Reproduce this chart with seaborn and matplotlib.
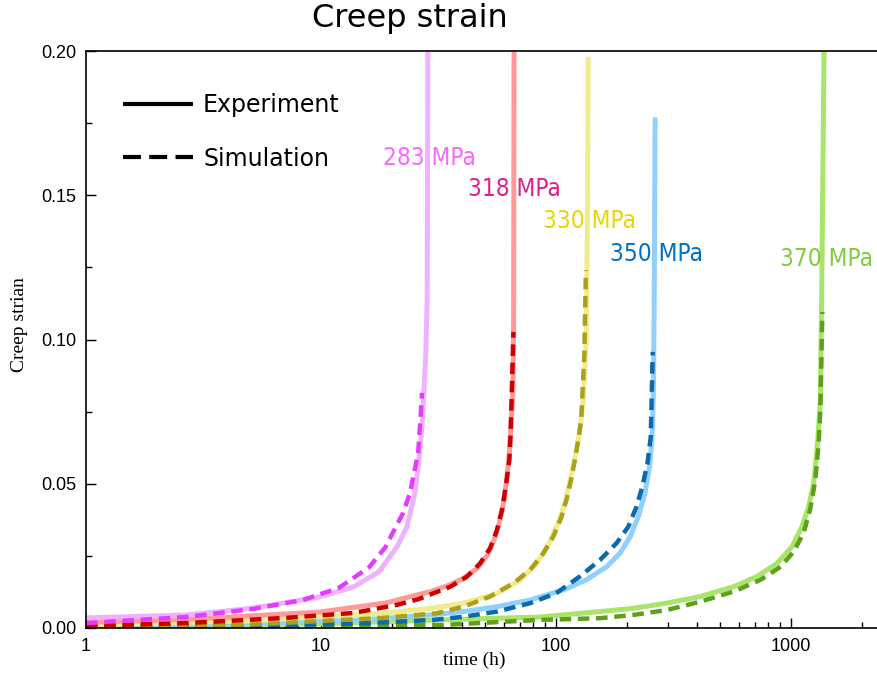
import numpy as np
import pandas as pd
import matplotlib
matplotlib.use("Agg")
import matplotlib.pyplot as plt
import seaborn as sns
from matplotlib.lines import Line2D
from matplotlib.ticker import LogLocator, NullFormatter, FixedLocator

# ---------------- data ----------------
t_283_exp = [1, 2.66, 5.13, 9.8, 13.7, 17.6, 19.2, 21.0, 23.2, 25.1, 26.1, 26.9, 27.4, 27.9, 28.3, 28.5]
e_283_exp = [0.0035, 0.0045, 0.0069, 0.0107, 0.0142, 0.0194, 0.0236, 0.028, 0.035, 0.0468, 0.058, 0.0697, 0.0815, 0.095, 0.114, 0.200]
t_283_sim = [1, 2.66, 5.13, 8.38, 11.9, 16.0, 18.8, 20.2, 22.4, 23.9, 24.9, 25.9, 26.6, 26.9]
e_283_sim = [0.0017, 0.0038, 0.0066, 0.0097, 0.0139, 0.021, 0.028, 0.033, 0.040, 0.0468, 0.0537, 0.0607, 0.0745, 0.0815]

t_318_exp = [1, 2.66, 9.8, 18.9, 29.1, 34.4, 40.4, 46.2, 51.1, 54.5, 57.3, 59.8, 61.7, 63.3, 64.5, 65.6, 66.0, 66.3]
e_318_exp = [0.002, 0.003, 0.0055, 0.0087, 0.0126, 0.0146, 0.0172, 0.0207, 0.0253, 0.0305, 0.0363, 0.0432, 0.0513, 0.0605, 0.0721, 0.082, 0.105, 0.200]
t_318_sim = [1, 2.66, 7.1, 13.7, 21.0, 26.0, 30.0, 35.5, 41.8, 47.5, 52.4, 56.1, 58.9, 61.1, 63.3, 64.1, 65.0, 65.9]
e_318_sim = [0.0007, 0.0017, 0.0035, 0.0052, 0.0080, 0.0100, 0.012, 0.0143, 0.0178, 0.0224, 0.0276, 0.034, 0.0409, 0.049, 0.0582, 0.0675, 0.085, 0.1026]

t_330_exp = [1, 5, 18.9, 29.1, 40.4, 56.2, 70.3, 82.7, 92.7, 102, 109, 114, 120, 125, 128, 131, 134.5, 136.3, 137]
e_330_exp = [0.001, 0.0025, 0.0052, 0.0068, 0.0086, 0.012, 0.0166, 0.0224, 0.0288, 0.0363, 0.0432, 0.0502, 0.0582, 0.0663, 0.0721, 0.080, 0.10, 0.15, 0.198]
t_330_sim = [1, 5, 18.3, 31, 40.4, 52.4, 65.8, 77.5, 88.3, 97.4, 105.6, 111.7, 116.6, 121, 125, 128, 132, 134]
e_330_sim = [0.0005, 0.0012, 0.0035, 0.0051, 0.0074, 0.0109, 0.0155, 0.0201, 0.0259, 0.0317, 0.0386, 0.0455, 0.0524, 0.0594, 0.0663, 0.0721, 0.095, 0.124]

t_350_exp = [1, 5, 15, 29.1, 40.4, 56.2, 77.5, 107.5, 134, 164, 187, 207, 224, 239, 250, 256, 258, 260, 262, 264]
e_350_exp = [0.0008, 0.0015, 0.0028, 0.0045, 0.0057, 0.0074, 0.0097, 0.0132, 0.0166, 0.0212, 0.0259, 0.0317, 0.0386, 0.0467, 0.0559, 0.0652, 0.0721, 0.085, 0.12, 0.177]
t_350_sim = [1, 5, 15, 30, 40.4, 56.2, 77.5, 99.9, 126, 154, 181, 203, 220, 233, 245, 253, 258]
e_350_sim = [0.0003, 0.0008, 0.0016, 0.0028, 0.0039, 0.0057, 0.0086, 0.012, 0.0178, 0.0236, 0.0294, 0.0351, 0.042, 0.049, 0.0571, 0.0663, 0.0957]

t_370_exp = [1, 10, 32, 85, 154, 212, 295, 410, 569, 715, 871, 1010, 1113, 1188, 1248, 1290, 1320, 1333, 1350, 1382]
e_370_exp = [0.0006, 0.0015, 0.0028, 0.0038, 0.0057, 0.0068, 0.0086, 0.0109, 0.0143, 0.0178, 0.0224, 0.0282, 0.0351, 0.042, 0.0502, 0.0617, 0.0732, 0.079, 0.114, 0.200]
t_370_sim = [1, 10, 32, 85, 154, 212, 295, 410, 569, 738, 902, 1025, 1130, 1205, 1269, 1311, 1333, 1360]
e_370_sim = [0.0002, 0.0008, 0.0010, 0.0028, 0.0034, 0.0045, 0.0062, 0.0091, 0.0126, 0.0166, 0.0212, 0.0264, 0.0328, 0.0409, 0.0513, 0.064, 0.0756, 0.1095]

stress_labels = ["283 MPa", "318 MPa", "330 MPa", "350 MPa", "370 MPa"]
label_x = [18.4, 42.2, 88.0, 169.7, 898]
label_y = [0.163, 0.152, 0.141, 0.1296, 0.128]
label_colors = ["#ff66ff", "#e0208c", "#e6d800", "#0070c0", "#80cc40"]
exp_colors = ["#efb2ff", "#ff9a9a", "#f0ec8c", "#8fd0ff", "#a8e56a"]
sim_colors = ["#e23cff", "#cc0000", "#aaa01c", "#0a6aab", "#5fa01a"]

x_ticks = [1, 10, 100, 1000]
x_ticklabels = ["1", "10", "100", "1000"]
y_ticks = [0.0, 0.05, 0.10, 0.15, 0.20]
y_ticklabels = ["0.00", "0.05", "0.10", "0.15", "0.20"]

exp_series = [(t_283_exp, e_283_exp), (t_318_exp, e_318_exp), (t_330_exp, e_330_exp),
              (t_350_exp, e_350_exp), (t_370_exp, e_370_exp)]
sim_series = [(t_283_sim, e_283_sim), (t_318_sim, e_318_sim), (t_330_sim, e_330_sim),
              (t_350_sim, e_350_sim), (t_370_sim, e_370_sim)]

# ---------------- style ----------------
sns.set_style("white")
plt.rcParams["font.family"] = ["DejaVu Sans"]
plt.rcParams["text.color"] = "black"
plt.rcParams["axes.labelcolor"] = "black"
plt.rcParams["xtick.color"] = "black"
plt.rcParams["ytick.color"] = "black"

fig = plt.figure(figsize=(8.78, 6.75), dpi=100)
ax = fig.add_axes([86 / 878, 1 - 628 / 675, 792 / 878, 577 / 675])

# experiments (solid, light) first, then simulations (dashed, dark)
for i in range(4, -1, -1):
    t, e = exp_series[i]
    df = pd.DataFrame({"t": t, "eps": e})
    sns.lineplot(data=df, x="t", y="eps", ax=ax, color=exp_colors[i], lw=3.6,
                 estimator=None, sort=False, legend=False, solid_capstyle="butt",
                 solid_joinstyle="round")
for i in range(4, -1, -1):
    t, e = sim_series[i]
    df = pd.DataFrame({"t": t, "eps": e})
    sns.lineplot(data=df, x="t", y="eps", ax=ax, color=sim_colors[i], lw=3.2,
                 estimator=None, sort=False, legend=False,
                 linestyle=(0, (2.6, 1.5)), dash_capstyle="butt", dash_joinstyle="round")

ax.set_xscale("log")
ax.set_xlim(1, 2345)
ax.set_ylim(0, 0.2)

ax.set_xticks(x_ticks)
ax.set_xticklabels(x_ticklabels)
ax.xaxis.set_minor_locator(LogLocator(base=10, subs=np.arange(2, 10), numticks=20))
ax.xaxis.set_minor_formatter(NullFormatter())
ax.set_yticks(y_ticks)
ax.set_yticklabels(y_ticklabels)
ax.yaxis.set_minor_locator(FixedLocator([0.025, 0.075, 0.125, 0.175]))

ax.tick_params(axis="both", which="both", direction="in", top=False, right=False,
               left=True, bottom=True, colors="black", labelcolor="black", width=1.0)
ax.tick_params(axis="both", which="major", length=7, labelsize=13, pad=7)
ax.tick_params(axis="both", which="minor", length=4)
for lab in ax.get_xticklabels() + ax.get_yticklabels():
    lab.set_fontfamily("Liberation Sans")

for side in ["left", "bottom", "top"]:
    ax.spines[side].set_visible(True)
    ax.spines[side].set_color("black")
    ax.spines[side].set_linewidth(1.2)
ax.spines["right"].set_visible(False)

ax.set_xlabel("time (h)", fontsize=14, fontfamily="Liberation Serif", color="black")
ax.xaxis.set_label_coords((474 - 86) / 792, (628 - 660) / 577)
ax.xaxis.label.set_verticalalignment("center")
ax.set_ylabel("Creep strian", fontsize=14, fontfamily="Liberation Serif", color="black")
ax.yaxis.set_label_coords((20 - 86) / 792, (628 - 325) / 577)
ax.yaxis.label.set_verticalalignment("center")

# stress annotations
for lab, x, y, c in zip(stress_labels, label_x, label_y, label_colors):
    ax.text(x, y, lab, color=c, fontsize=17.5, ha="left", va="center",
            fontfamily="DejaVu Sans", fontstretch="condensed")

# legend
handles = [Line2D([], [], color="black", lw=3, solid_capstyle="butt"),
           Line2D([], [], color="black", lw=3, linestyle=(0, (4.3, 2.0)), dash_capstyle="butt")]
leg = ax.legend(handles=handles, labels=["Experiment", "Simulation"], loc="upper left",
                bbox_to_anchor=((123 - 86) / 792, (628 - 93) / 577), frameon=False,
                fontsize=17, handlelength=2.97, handletextpad=0.42, labelspacing=1.26,
                borderpad=0, borderaxespad=0)
for txt in leg.get_texts():
    txt.set_color("black")

fig.text(410 / 878, 1 - 19 / 675, "Creep strain", fontsize=23, ha="center", va="center",
         fontfamily="DejaVu Sans", color="black")

fig.savefig("out.png", dpi=100)
